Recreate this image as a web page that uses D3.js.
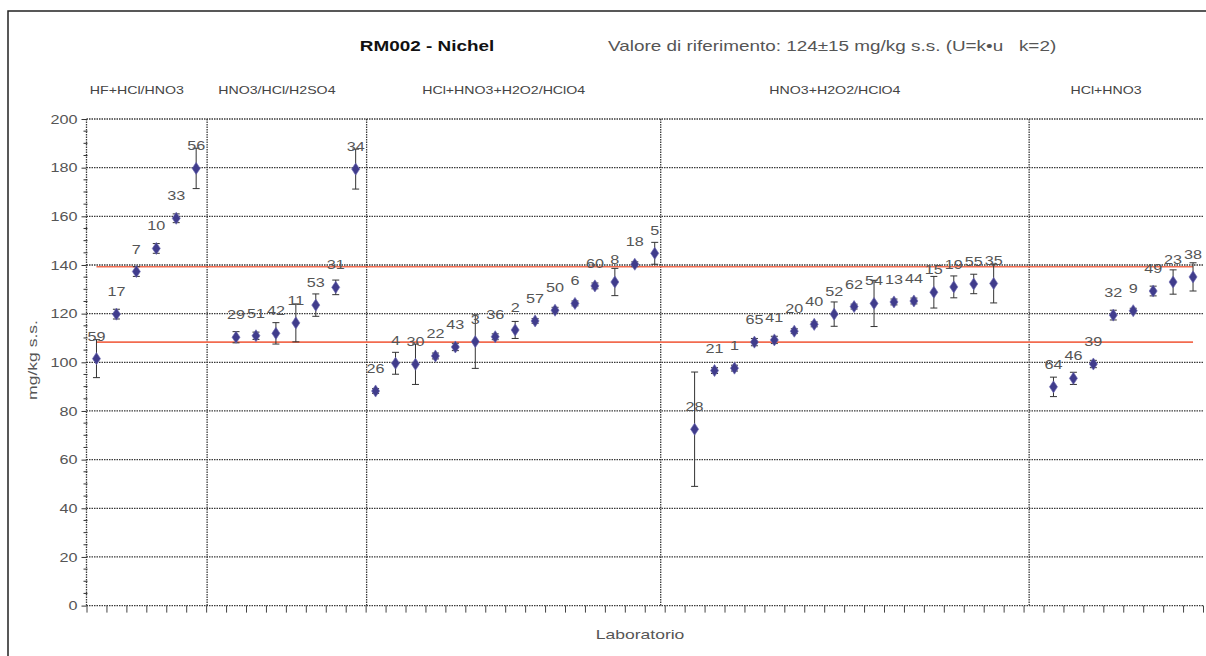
<!DOCTYPE html>
<html>
<head>
<meta charset="utf-8">
<script src="https://cdn.jsdelivr.net/npm/d3@7"></script>
<style>
  body { margin: 0; background: #fff; }
  svg { display: block; }
  text { font-family: Arial, "Liberation Sans", sans-serif; }
</style>
</head>
<body>
<svg id="chart" width="1206" height="656"></svg>
<script>
// one entry per category slot on the x axis, "" = empty slot between groups
const labs = [
  "59", "17", "7", "10", "33", "56",
  "",
  "29", "51", "42", "11", "53", "31", "34",
  "26", "4", "30", "22", "43", "3", "36", "2", "57", "50", "6", "60", "8", "18", "5",
  "",
  "28", "21", "1", "65", "41", "20", "40", "52", "62", "54", "13", "44", "15", "19", "55", "35",
  "", "",
  "64", "46", "39", "32", "9", "49", "23", "38"
];
const values = [
  101.5, 119.8, 137.3, 146.8, 159.2, 179.7,
  null,
  110.3, 110.9, 111.9, 116.2, 123.5, 130.8, 179.4,
  88.2, 99.6, 99.2, 102.6, 106.3, 108.5, 110.5, 113.3, 117.0, 121.4, 124.2, 131.4, 133.0, 140.3, 144.8,
  null,
  72.5, 96.6, 97.6, 108.3, 109.2, 112.8, 115.6, 119.8, 122.9, 124.2, 124.8, 125.2, 128.8, 131.0, 132.2, 132.4,
  null, null,
  89.9, 93.4, 99.3, 119.4, 121.2, 129.3, 133.0, 135.1
];
const errors = [
  7.8, 2.0, 2.0, 2.0, 1.8, 8.3,
  null,
  2.3, 1.5, 4.4, 7.8, 4.6, 3.0, 8.2,
  1.0, 4.5, 8.3, 1.2, 1.5, 11.0, 1.2, 3.5, 1.0, 1.2, 1.0, 1.2, 5.6, 1.0, 4.5,
  null,
  23.5, 1.2, 1.2, 1.5, 1.5, 1.0, 1.0, 5.0, 1.0, 9.5, 1.2, 1.2, 6.5, 4.5, 4.0, 8.0,
  null, null,
  4.0, 2.5, 1.5, 2.0, 1.0, 2.0, 5.0, 5.8
];
const groupNames = ["HF+HCl/HNO3", "HNO3/HCl/H2SO4", "HCl+HNO3+H2O2/HClO4", "HNO3+H2O2/HClO4", "HCl+HNO3"];
const dividers = [6.05, 14.05, 28.8, 47.28];   // group separators, in slot units
const refLow = 108.3, refHigh = 139.3;
const yTicks = [0, 20, 40, 60, 80, 100, 120, 140, 160, 180, 200];

const SX = 1.35; // the original fonts are drawn wide
const svg = d3.select("#chart");

const x = d3.scaleLinear().domain([0, labs.length]).range([86.5, 1203]);
const y = d3.scaleLinear().domain([0, 200]).range([605.6, 119]);

const pts = labs.map((l, i) => ({ lab: l, v: values[i], e: errors[i], i }))
  .filter(d => d.v != null);

function wideText(g, tx, ty, str, size, anchor, fill, weight, rot) {
  return g.append("text")
    .attr("transform", `translate(${tx},${ty})` + (rot ? ` rotate(${rot})` : "") + ` scale(${SX},1)`)
    .attr("text-anchor", anchor)
    .attr("font-size", size)
    .attr("font-weight", weight || "normal")
    .attr("fill", fill)
    .text(str);
}

// outer frame
svg.append("rect")
  .attr("x", 8).attr("y", 11)
  .attr("width", 1220).attr("height", 670)
  .attr("fill", "none").attr("stroke", "#222").attr("stroke-width", 1.5);

// titles
wideText(svg, 427, 51, "RM002 - Nichel", 14, "middle", "#111", "bold");
wideText(svg, 608, 51, "Valore di riferimento: 124\u00b115 mg/kg s.s. (U=k\u2022u   k=2)", 14, "start", "#555")
  .attr("xml:space", "preserve").style("white-space", "pre");

// group names
const bounds = [0, ...dividers, labs.length];
groupNames.forEach((n, k) => {
  const cx = x((bounds[k] + bounds[k + 1]) / 2) - 10;
  wideText(svg, cx, 94, n, 10.5, "middle", "#444");
});

// horizontal grid
svg.append("g").selectAll("line").data(yTicks).join("line")
  .attr("x1", x(0)).attr("x2", x(labs.length))
  .attr("y1", d => y(d)).attr("y2", d => y(d))
  .attr("stroke", "#3a3a3a").attr("stroke-width", 1.3).attr("stroke-dasharray", "1.5,1");

// group separators and y axis line
svg.append("g").selectAll("line").data([0, ...dividers]).join("line")
  .attr("x1", d => x(d)).attr("x2", d => x(d))
  .attr("y1", y(200)).attr("y2", y(0))
  .attr("stroke", "#3a3a3a").attr("stroke-width", 1.3).attr("stroke-dasharray", "1.5,1");

// y axis ticks + labels
const yAxis = svg.append("g")
  .attr("transform", `translate(${x(0)},0)`)
  .call(d3.axisLeft(y).tickValues(yTicks).tickSize(5).tickPadding(0));
yAxis.select(".domain").remove();
yAxis.selectAll(".tick line").attr("stroke", "#333");
yAxis.selectAll(".tick text")
  .attr("x", null).attr("dy", "0.35em")
  .attr("transform", `translate(-9,0) scale(${SX},1)`)
  .attr("font-size", 12).attr("font-family", null).attr("fill", "#555");
svg.append("g").selectAll("line")
  .data(d3.range(0, 201, 5).filter(v => v % 20 !== 0)).join("line")
  .attr("x1", x(0) - 3).attr("x2", x(0) + 1)
  .attr("y1", d => y(d)).attr("y2", d => y(d))
  .attr("stroke", "#333");

// x axis ticks
const xAxis = svg.append("g")
  .attr("transform", `translate(0,${y(0)})`)
  .call(d3.axisBottom(x).tickValues(d3.range(0, labs.length + 1)).tickSize(7).tickFormat(""));
xAxis.select(".domain").remove();
xAxis.selectAll(".tick line").attr("stroke", "#444");

// axis titles
wideText(svg, 640, 639, "Laboratorio", 13, "middle", "#555");
wideText(svg, 37, 360, "mg/kg s.s.", 13, "middle", "#555", "normal", -90);

// reference limits
const first = pts[0].i + 0.5, last = pts[pts.length - 1].i + 0.5;
svg.append("g").selectAll("line").data([refLow, refHigh]).join("line")
  .attr("x1", x(first)).attr("x2", x(last))
  .attr("y1", d => y(d)).attr("y2", d => y(d))
  .attr("stroke", "#f26b4f").attr("stroke-width", 1.6);

// error bars
const eb = svg.append("g").attr("stroke", "#333").attr("stroke-width", 1);
pts.forEach(d => {
  const cx = x(d.i + 0.5);
  eb.append("line").attr("x1", cx).attr("x2", cx).attr("y1", y(d.v - d.e)).attr("y2", y(d.v + d.e));
  [d.v - d.e, d.v + d.e].forEach(v =>
    eb.append("line").attr("x1", cx - 3.5).attr("x2", cx + 3.5).attr("y1", y(v)).attr("y2", y(v)));
});

// markers
svg.append("g").selectAll("path").data(pts).join("path")
  .attr("transform", d => `translate(${x(d.i + 0.5)},${y(d.v)}) scale(1.15,1)`)
  .attr("d", d3.symbol(d3.symbolDiamond, 42))
  .attr("fill", "#403c8c").attr("stroke", "#6b68b0").attr("stroke-width", 0.6);

// lab labels
const lg = svg.append("g");
pts.forEach(d => wideText(lg, x(d.i + 0.5), y(d.v) - 18, d.lab, 12, "middle", "#555"));
</script>
</body>
</html>
